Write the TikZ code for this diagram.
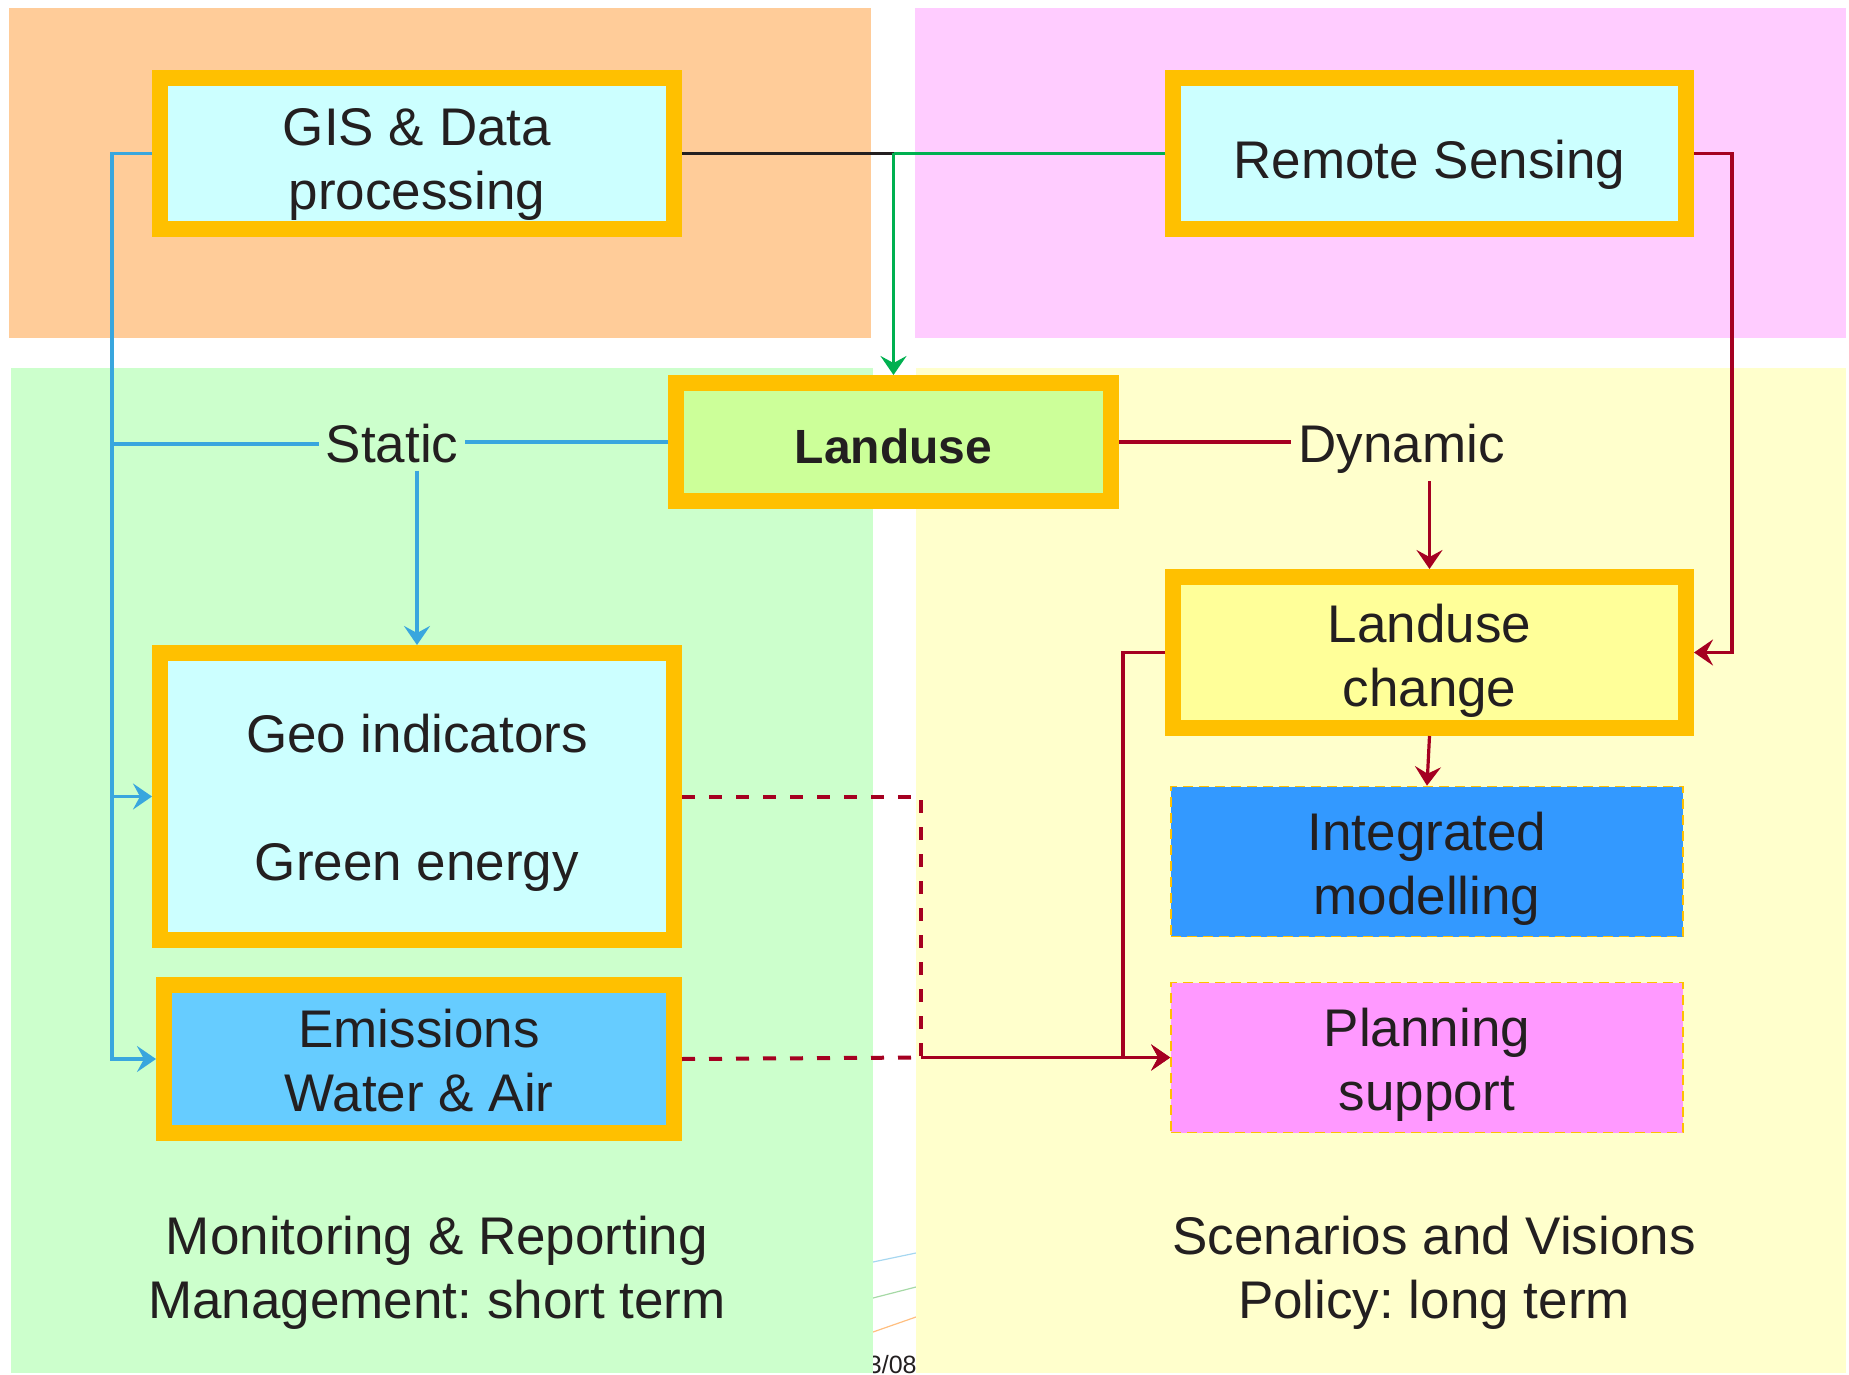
\documentclass[tikz,border=0pt]{standalone}
\usepackage{fontspec}
\setmainfont{Liberation Sans}
\usetikzlibrary{arrows.meta}

\definecolor{orangebg}{HTML}{FFCC99}
\definecolor{pinkbg}{HTML}{FFCCFF}
\definecolor{greenbg}{HTML}{CCFFCC}
\definecolor{yellowbg}{HTML}{FFFFCC}
\definecolor{bord}{HTML}{FFC000}
\definecolor{cyanf}{HTML}{CCFFFF}
\definecolor{landf}{HTML}{CCFF99}
\definecolor{changef}{HTML}{FFFF99}
\definecolor{modelf}{HTML}{3399FF}
\definecolor{planf}{HTML}{FF99FF}
\definecolor{emisf}{HTML}{66CCFF}
\definecolor{blu}{HTML}{39A6DE}
\definecolor{redl}{HTML}{A50021}
\definecolor{grnl}{HTML}{00B050}
\definecolor{txt}{HTML}{231F20}

\newcommand{\boxfont}{\fontsize{26.5}{32}\selectfont}
\newcommand{\boxlift}[1]{\rule{0pt}{#1}}
\frenchspacing

\begin{document}
\begin{tikzpicture}[x=0.5pt,y=-0.5pt,
  >={Stealth[length=9.5pt,width=13pt,inset=3.5pt]},
  every node/.style={text=txt,font=\boxfont},
  box/.style={draw=bord,line width=8pt,inner sep=0pt,align=center},
  thinbox/.style={draw=bord,line width=0.8pt,dash pattern=on 5pt off 3pt,
    inner sep=0pt,align=center},
  bl/.style={draw=blu,line width=1.6pt},
  rd/.style={draw=redl,line width=1.6pt},
  rddash/.style={draw=redl,line width=2pt,dash pattern=on 6.5pt off 7pt}]
  \useasboundingbox (0,0) rectangle (1849,1375);
  % what shows through the gap
  \node[font=\fontsize{12.5}{14}\selectfont,anchor=base east,inner sep=0pt] (dt) at (917,1373) {3/08};
  \draw[blu!45,line width=0.6pt] (873,1262) -- (916,1253);
  \draw[green!40!gray!50,line width=0.6pt] (873,1298) -- (916,1287);
  \draw[orange!50,line width=0.6pt] (873,1332) -- (916,1317);
  % panels
  \fill[orangebg] (9,8) rectangle (871,338);
  \fill[pinkbg] (915,8) rectangle (1846,338);
  \fill[greenbg] (11,368) rectangle (873,1373);
  \fill[yellowbg] (916,368) rectangle (1846,1373);
  % boxes
  \node[box,fill=cyanf,minimum width=257pt,minimum height=75.5pt] (gis) at (417,153.5) {\boxlift{30pt}GIS \& Data\\processing};
  \node[box,fill=cyanf,minimum width=256.5pt,minimum height=75.5pt] (rs) at (1429.5,153.5) {\boxlift{30.5pt}Remote Sensing};
  \node[box,fill=landf,minimum width=217.5pt,minimum height=59pt,font=\fontsize{24}{30}\selectfont\bfseries] (lu) at (893.5,442) {\boxlift{22pt}Landuse};
  \node[box,fill=changef,minimum width=256.5pt,minimum height=75.5pt] (luc) at (1429.5,652.5) {\boxlift{27.5pt}Landuse\\change};
  \node[box,fill=cyanf,minimum width=257pt,minimum height=143.5pt] (geo) at (417,796.5) {\boxlift{25.5pt}Geo indicators\\[32pt]Green energy};
  \node[box,fill=emisf,minimum width=255pt,minimum height=74pt] (emi) at (419,1059) {\boxlift{20.5pt}Emissions\\Water \& Air};
  \node[thinbox,fill=modelf,minimum width=256pt,minimum height=75pt] (im) at (1427,861.5) {\boxlift{26.5pt}Integrated\\modelling};
  \node[thinbox,fill=planf,minimum width=256pt,minimum height=75pt] (pl) at (1427,1057.5) {\boxlift{26.5pt}Planning\\support};
  % labels
  \node[anchor=base] (static) at (392,463) {Static};
  \node[anchor=base] (dyn) at (1401.5,463) {Dynamic};
  \node[align=center] (mon) at (437,1273) {Monitoring \& Reporting\\Management: short term};
  \node[align=center] (scen) at (1434,1273) {Scenarios and Visions\\Policy: long term};
  % top connectors
  \draw[line width=1.6pt,txt] (gis.east) -- (gis.east -| lu.north) coordinate (j);
  \draw[line width=1.6pt,grnl] (rs.west) -- (j);
  \draw[line width=1.6pt,grnl,->] (j) -- (lu.north);
  % static side
  \draw[bl,->] (gis.west) -- ++(-40,0) coordinate (b1) |- (emi.west);
  \draw[bl,->] (b1 |- geo.west) -- (geo.west);
  \draw[bl] (static.west) -- (static.west -| b1);
  \draw[bl] (lu.west) -- (lu.west -| static.east);
  \draw[bl,->] (static.south -| geo.north) -- (geo.north);
  % dynamic side
  \draw[rd] (lu.east) -- (lu.east -| dyn.west);
  \draw[rd,->] (dyn.south -| luc.north) -- (luc.north);
  \draw[rd,->] (rs.east) -- ++(38,0) |- (luc.east);
  \draw[rd,->] (luc.south) -- (im.north);
  \draw[rd,->] (luc.west) -- ++(-42,0) |- (pl.west);
  % dashed links to planning
  \path (pl.west) ++(-249,0) coordinate (m);
  \draw[rddash] (geo.east) -| (m);
  \draw[rddash] (emi.east) -- (m);
  \draw[rd,->] (m) -- (pl.west);
\end{tikzpicture}
\end{document}
